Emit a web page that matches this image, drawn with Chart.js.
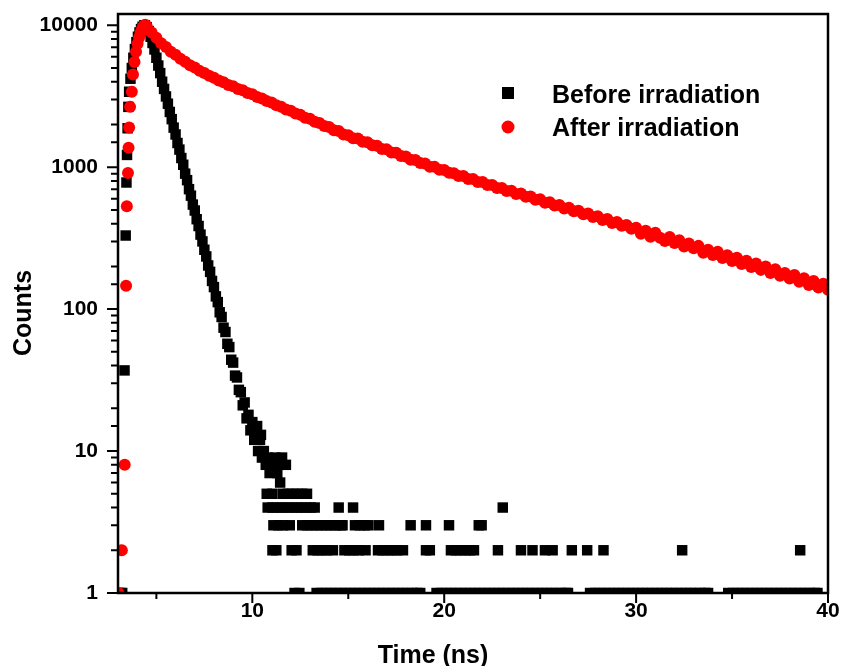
<!DOCTYPE html>
<html>
<head>
<meta charset="utf-8">
<script src="https://cdn.jsdelivr.net/npm/chart.js@4.4.1/dist/chart.umd.min.js"></script>
<style>
  html, body { margin: 0; padding: 0; background: #fff; }
  #wrap { width: 845px; height: 666px; }
</style>
</head>
<body>
<div id="wrap"><canvas id="decay-chart" width="845" height="666"></canvas></div>
<script>
const FONT = '"Liberation Sans", Arial, Helvetica, sans-serif';

// tick labels
const xTickLabels = [10, 20, 30, 40];
const yTickLabels = [1, 10, 100, 1000, 10000];

// Before irradiation: rise + fast decay (ns, counts)
const beforeTime = [
  3.02, 3.12, 3.22, 3.34, 3.40, 3.44, 3.47, 3.50, 3.54, 3.58,
  3.65, 3.72, 3.80, 3.88, 3.96, 4.04, 4.12, 4.20, 4.28, 4.36,
  4.4, 4.5, 4.6, 4.7, 4.8, 4.9, 5.0, 5.1, 5.2, 5.3,
  5.4, 5.5, 5.6, 5.7, 5.8, 5.9, 6.0, 6.1, 6.2, 6.3,
  6.4, 6.5, 6.6, 6.7, 6.8, 6.9, 7.0, 7.1, 7.2, 7.3,
  7.4, 7.5, 7.6, 7.7, 7.8, 7.9, 8.0, 8.1, 8.2, 8.3,
  8.4, 8.5, 8.6, 8.7, 8.8, 8.9, 9.0, 9.1, 9.2, 9.3,
  9.4, 9.5, 9.6, 9.7, 9.8, 9.9, 10.0, 10.1, 10.2, 10.3,
  10.4, 10.5, 10.6, 10.7, 10.8, 10.9, 11.0,
  11.2, 11.55, 11.4, 11.75, 11.3, 11.45, 10.25, 10.45
];
const beforeCounts = [
  1, 1, 1, 37, 330, 780, 1220, 1880, 2660, 3400,
  4200, 5000, 5900, 6800, 7600, 8300, 8900, 9400, 9750, 9950,
  10000, 9700, 9100, 8300, 7500, 6750, 5900, 5200, 4600, 4000,
  3560, 3150, 2800, 2450, 2180, 1900, 1700, 1480, 1330, 1160,
  1040, 900, 810, 700, 630, 545, 495, 430, 385, 335,
  300, 262, 235, 203, 183, 158, 143, 123, 112, 95,
  88, 74, 69, 57, 54, 44, 42, 34, 33, 27,
  26, 21, 22, 17, 18, 14, 16, 12, 13, 10,
  12, 9, 10, 8, 9, 7, 8,
  9, 9, 8, 8, 7, 6, 15, 13
];

// Before irradiation: background counts, times per count level
const noiseAt5 = [10.75, 11.05, 11.6, 11.85, 12.1, 12.35, 12.6, 12.85];
const noiseAt4 = [10.8, 11.05, 11.3, 11.55, 11.8, 12.05, 12.3, 12.55, 12.8, 13.05, 13.25, 14.5, 15.25, 23.05];
const noiseAt3 = [11.1, 11.35, 11.6, 11.95, 12.6, 12.85, 13.1, 13.35, 13.6, 13.85, 14.1, 14.35, 14.6, 14.7,
  15.35, 15.6, 15.85, 16.05, 16.6, 18.25, 19.05, 20.25, 21.8, 21.95];
const noiseAt2 = [11.05, 11.25, 12.05, 12.3, 13.15, 13.4, 13.65, 13.9, 14.2, 14.8, 15.05, 15.3, 15.55, 15.9,
  16.55, 16.8, 17.05, 17.3, 17.55, 17.85, 19.05, 19.25, 20.35, 20.6, 20.85, 21.1, 21.35, 21.55,
  22.8, 24.0, 24.6, 25.25, 25.65, 26.65, 27.45, 28.3, 32.4, 38.55];
const noiseAt1 = [12.2, 12.45, 13.35, 13.6, 13.85, 14.1, 14.35, 14.6, 14.85, 15.1, 15.35, 15.6, 15.85,
  16.1, 16.35, 16.6, 16.85, 17.1, 17.35, 17.6, 17.85, 18.1, 18.35, 18.6, 18.75,
  19.6, 19.85, 20.1, 20.35, 20.6, 20.85, 21.1, 21.35, 21.6, 21.85, 22.1, 22.35, 22.6, 22.85,
  23.1, 23.35, 23.6, 23.85, 24.1, 24.35, 24.6, 24.85, 25.1, 25.35, 25.6, 25.85, 26.1, 26.35, 26.45,
  27.6, 27.85, 28.1, 28.35, 28.6, 28.85, 29.1, 29.35, 29.6, 29.85, 30.1, 30.35, 30.6, 30.85,
  31.1, 31.35, 31.6, 31.85, 32.1, 32.35, 32.6, 32.85, 33.1, 33.35, 33.6, 33.75,
  34.8, 35.05, 35.3, 35.55, 35.8, 36.05, 36.3, 36.55, 36.8, 37.05, 37.3, 37.55, 37.8,
  38.05, 38.3, 38.55, 38.8, 39.05, 39.3, 39.45];

// After irradiation (ns, counts)
const afterTime = [
  3.03, 3.20, 3.35, 3.42, 3.46, 3.52, 3.55, 3.58, 3.63, 3.72,
  3.78, 3.86, 3.94, 4.02, 4.10, 4.18, 4.26, 4.34, 4.42,
  4.5, 4.75, 5, 5.25, 5.5, 5.75, 6, 6.25, 6.5, 6.75,
  7, 7.25, 7.5, 7.75, 8, 8.25, 8.5, 8.75, 9, 9.25,
  9.5, 9.75, 10, 10.25, 10.5, 10.75, 11, 11.25, 11.5, 11.75,
  12, 12.25, 12.5, 12.75, 13, 13.25, 13.5, 13.75, 14, 14.25,
  14.5, 14.75, 15, 15.25, 15.5, 15.75, 16, 16.25, 16.5, 16.75,
  17, 17.25, 17.5, 17.75, 18, 18.25, 18.5, 18.75, 19, 19.25,
  19.5, 19.75, 20, 20.25, 20.5, 20.75, 21, 21.25, 21.5, 21.75,
  22, 22.25, 22.5, 22.75, 23, 23.25, 23.5, 23.75, 24, 24.25,
  24.5, 24.75, 25, 25.25, 25.5, 25.75, 26, 26.25, 26.5, 26.75,
  27, 27.25, 27.5, 27.75, 28, 28.25, 28.5, 28.75, 29, 29.25,
  29.5, 29.75, 30, 30.25, 30.5, 30.75, 31, 31.25, 31.5, 31.75,
  32, 32.25, 32.5, 32.75, 33, 33.25, 33.5, 33.75, 34, 34.25,
  34.5, 34.75, 35, 35.25, 35.5, 35.75, 36, 36.25, 36.5, 36.75,
  37, 37.25, 37.5, 37.75, 38, 38.25, 38.5, 38.75, 39, 39.25,
  39.5, 39.75, 40
];
const afterCounts = [
  1, 2, 8, 146, 531, 910, 1370, 1900, 2660, 3400,
  4500, 5500, 6500, 7400, 8200, 8900, 9500, 9900, 10100,
  9800, 8900, 8150, 7480, 7020, 6500, 6190, 5800, 5540, 5230,
  5030, 4770, 4610, 4400, 4270, 4080, 3970, 3800, 3710, 3560,
  3480, 3330, 3260, 3120, 3050, 2920, 2860, 2730, 2670, 2550,
  2500, 2390, 2340, 2230, 2190, 2090, 2050, 1950, 1920, 1820,
  1800, 1700, 1680, 1600, 1590, 1510, 1500, 1425, 1415, 1345,
  1335, 1270, 1262, 1198, 1190, 1130, 1125, 1068, 1062, 1008,
  1005, 960, 957, 912, 905, 868, 866, 826, 827, 786,
  785, 748, 750, 712, 713, 680, 682, 648, 652, 618,
  622, 590, 594, 562, 567, 537, 542, 512, 518, 489,
  494, 466, 472, 445, 451, 424, 431, 405, 411, 387,
  392, 369, 375, 340, 356, 324, 345, 318, 302, 322,
  292, 306, 276, 290, 268, 279, 250, 262, 241, 254,
  229, 240, 218, 230, 208, 219, 198, 210, 189, 200,
  180, 191, 172, 180, 164, 174, 156, 165, 148, 158,
  142, 151, 137
];

function toPoints(ts, cs) {
  return ts.map((t, i) => ({ x: t, y: cs[i] }));
}
function levelPoints(ts, level) {
  return ts.map(t => ({ x: t, y: level }));
}

const beforePoints = [
  ...toPoints(beforeTime, beforeCounts),
  ...levelPoints(noiseAt5, 5), ...levelPoints(noiseAt4, 4), ...levelPoints(noiseAt3, 3),
  ...levelPoints(noiseAt2, 2), ...levelPoints(noiseAt1, 1)
];
const afterPoints = toPoints(afterTime, afterCounts);

// frame, tick marks, axis titles and legend in the Origin style
const originStyle = {
  id: 'originStyle',
  afterDraw(chart) {
    const { ctx, chartArea: a, scales: { x, y } } = chart;
    ctx.save();
    ctx.strokeStyle = '#000';
    ctx.lineWidth = 2;
    ctx.beginPath();
    y.ticks.forEach(t => {
      if (t.value > 10000) return;
      const py = y.getPixelForValue(t.value);
      const len = yTickLabels.includes(t.value) ? 11 : 7;
      ctx.moveTo(a.left - len, py); ctx.lineTo(a.left, py);
    });
    x.ticks.forEach(t => {
      const px = x.getPixelForValue(t.value);
      const len = xTickLabels.includes(t.value) ? 10 : 6;
      ctx.moveTo(px, a.bottom); ctx.lineTo(px, a.bottom + len);
    });
    ctx.stroke();
    ctx.lineWidth = 2.5;
    ctx.strokeRect(a.left, a.top, a.right - a.left, a.bottom - a.top);

    ctx.fillStyle = '#000';
    ctx.font = 'bold 25px ' + FONT;
    ctx.textAlign = 'center';
    ctx.textBaseline = 'alphabetic';
    ctx.fillText('Time (ns)', 433, 663);
    ctx.save();
    ctx.translate(31, 313);
    ctx.rotate(-Math.PI / 2);
    ctx.fillText('Counts', 0, 0);
    ctx.restore();

    // legend
    ctx.fillRect(502, 87, 12, 12);
    ctx.fillStyle = '#ff0000';
    ctx.beginPath(); ctx.arc(508, 127, 6.5, 0, Math.PI * 2); ctx.fill();
    ctx.fillStyle = '#000';
    ctx.textAlign = 'left';
    chart.data.datasets.forEach((ds, i) => ctx.fillText(ds.label, 552, 103 + i * 33));
    ctx.restore();
  }
};

new Chart(document.getElementById('decay-chart'), {
  type: 'scatter',
  data: {
    datasets: [
      { label: 'Before irradiation', data: beforePoints, pointStyle: 'rect', pointRadius: 7.4,
        backgroundColor: '#000', pointBackgroundColor: '#000', borderWidth: 0, pointBorderWidth: 0, order: 2 },
      { label: 'After irradiation', data: afterPoints, pointStyle: 'circle', pointRadius: 6,
        backgroundColor: '#ff0000', pointBackgroundColor: '#ff0000', borderWidth: 0, pointBorderWidth: 0, order: 1 }
    ]
  },
  options: {
    responsive: false,
    animation: false,
    events: [],
    layout: { padding: { top: 14, right: 17, left: 0, bottom: 0 } },
    plugins: { legend: { display: false }, tooltip: { enabled: false } },
    scales: {
      x: {
        type: 'linear', min: 3, max: 40,
        afterFit: s => { s.height = 73; s.paddingLeft = 0; s.paddingRight = 0; },
        grid: { display: false, drawTicks: false },
        border: { display: false },
        ticks: {
          stepSize: 5, includeBounds: false, autoSkip: false, maxRotation: 0, padding: 6,
          color: '#000', font: { family: FONT, size: 21, weight: 'bold' },
          callback: v => xTickLabels.includes(v) ? String(v) : ''
        }
      },
      y: {
        type: 'logarithmic', min: 1, max: 12000,
        afterFit: s => { s.width = 118; s.paddingTop = 0; s.paddingBottom = 0; },
        grid: { display: false, drawTicks: false },
        border: { display: false },
        ticks: {
          autoSkip: false, padding: 20,
          color: '#000', font: { family: FONT, size: 21, weight: 'bold' },
          callback: v => yTickLabels.includes(v) ? String(v) : ''
        }
      }
    }
  },
  plugins: [originStyle]
});
</script>
</body>
</html>
